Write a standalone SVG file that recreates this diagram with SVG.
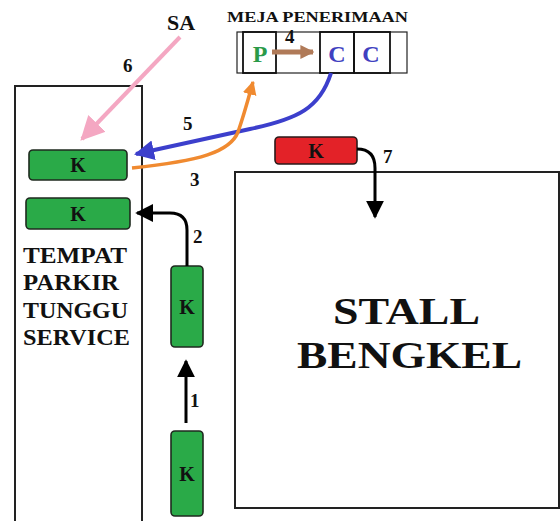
<svg xmlns="http://www.w3.org/2000/svg" width="560" height="521" viewBox="0 0 560 521">
<style>
text{font-family:"Liberation Serif","Times New Roman",serif;font-weight:bold;fill:#111}
.area{fill:none;stroke:#222;stroke-width:2}
.car{fill:#2aaa48;stroke:#1f2a1f;stroke-width:1.6}
.red{fill:#e32228;stroke:#2a1a1a;stroke-width:1.6}
.k{font-size:20px;text-anchor:middle}
.num{font-size:19px}
.blk{fill:none;stroke:#000;stroke-width:3}
</style>
<defs>
<marker id="hBlack" viewBox="0 0 10 10" refX="9" refY="5" markerUnits="userSpaceOnUse" markerWidth="18" markerHeight="22" orient="auto"><path d="M0,0 L10,5 L0,10 Z" fill="#000"/></marker>
<marker id="hPink" viewBox="0 0 10 10" refX="9" refY="5" markerUnits="userSpaceOnUse" markerWidth="24" markerHeight="26" orient="auto"><path d="M0,0 L10,5 L0,10 Z" fill="#f4a7c2"/></marker>
<marker id="hBlue" viewBox="0 0 10 10" refX="9" refY="5" markerUnits="userSpaceOnUse" markerWidth="20" markerHeight="22" orient="auto"><path d="M0,0 L10,5 L0,10 Z" fill="#3c3fcc"/></marker>
<marker id="hOrange" viewBox="0 0 10 10" refX="9" refY="5" markerUnits="userSpaceOnUse" markerWidth="14" markerHeight="20" orient="auto"><path d="M0,0 L10,5 L0,10 Z" fill="#f08a30"/></marker>
<marker id="hBrown" viewBox="0 0 10 10" refX="9" refY="5" markerUnits="userSpaceOnUse" markerWidth="14" markerHeight="17" orient="auto"><path d="M0,0 L10,5 L0,10 Z" fill="#b07a58"/></marker>
</defs>
<rect width="560" height="521" fill="#fff"/>

<g id="parking">
<rect class="area" x="15" y="86" width="127" height="440"/>
<text x="23" y="263" font-size="24" textLength="104" lengthAdjust="spacingAndGlyphs">TEMPAT</text>
<text x="23" y="290" font-size="24" textLength="96" lengthAdjust="spacingAndGlyphs">PARKIR</text>
<text x="23" y="318" font-size="24" textLength="105" lengthAdjust="spacingAndGlyphs">TUNGGU</text>
<text x="23" y="345" font-size="24" textLength="107" lengthAdjust="spacingAndGlyphs">SERVICE</text>
</g>

<g id="stall">
<rect class="area" x="235" y="172" width="324" height="336"/>
<text x="333" y="324" font-size="38" textLength="147" lengthAdjust="spacingAndGlyphs">STALL</text>
<text x="297" y="368" font-size="38" textLength="225" lengthAdjust="spacingAndGlyphs">BENGKEL</text>
</g>

<g id="meja">
<text x="227" y="22" font-size="14" textLength="181" lengthAdjust="spacingAndGlyphs">MEJA PENERIMAAN</text>
<rect x="237" y="32" width="170" height="41" fill="none" stroke="#222" stroke-width="1.2"/>
<rect x="243" y="32" width="33" height="41" fill="none" stroke="#111" stroke-width="1.8"/>
<rect x="320" y="32" width="34" height="41" fill="none" stroke="#111" stroke-width="1.8"/>
<rect x="354" y="32" width="36" height="41" fill="none" stroke="#111" stroke-width="1.8"/>
<text x="260" y="62" font-size="24" text-anchor="middle" style="fill:#2a9a48">P</text>
<text x="337" y="62" font-size="24" text-anchor="middle" style="fill:#4040c0">C</text>
<text x="371" y="62" font-size="24" text-anchor="middle" style="fill:#4040c0">C</text>
</g>

<g id="sa"><text x="167" y="30" font-size="22">SA</text></g>

<g id="car1"><rect class="car" x="29" y="150" width="98" height="30" rx="4"/><text class="k" x="78" y="172">K</text></g>
<g id="car2"><rect class="car" x="26" y="198" width="104" height="31" rx="4"/><text class="k" x="78" y="221">K</text></g>
<g id="car3"><rect class="car" x="171" y="266" width="32" height="81" rx="4"/><text class="k" x="187" y="314">K</text></g>
<g id="car4"><rect class="car" x="171" y="431" width="32" height="85" rx="4"/><text class="k" x="187" y="481">K</text></g>
<g id="car5"><rect class="red" x="275" y="137" width="82" height="27" rx="4"/><text class="k" x="316" y="158">K</text></g>

<g id="connectors">
<path class="blk" d="M186,423 L186,361" marker-end="url(#hBlack)"/>
<path class="blk" d="M187,266 L187,230 Q187,213 170,213 L137,213" marker-end="url(#hBlack)"/>
<path class="blk" d="M357,149 Q375,149 375,168 L375,217" marker-end="url(#hBlack)"/>
<path d="M180,37 L82,139" fill="none" stroke="#f4a7c2" stroke-width="4" marker-end="url(#hPink)"/>
<path d="M331,73 C320,108 298,119 250,129 L136,154" fill="none" stroke="#3c3fcc" stroke-width="4" marker-end="url(#hBlue)"/>
<path d="M132,168 C200,161 230,152 238,132 C244,115 248,100 253,82" fill="none" stroke="#f08a30" stroke-width="3.5" marker-end="url(#hOrange)"/>
<path d="M272,52 L313,52" fill="none" stroke="#b07a58" stroke-width="5" marker-end="url(#hBrown)"/>
<text class="num" x="190" y="407">1</text>
<text class="num" x="193" y="243">2</text>
<text class="num" x="190" y="186">3</text>
<text class="num" x="285" y="43">4</text>
<text class="num" x="183" y="130">5</text>
<text class="num" x="123" y="72">6</text>
<text class="num" x="383" y="163">7</text>
</g>
</svg>
